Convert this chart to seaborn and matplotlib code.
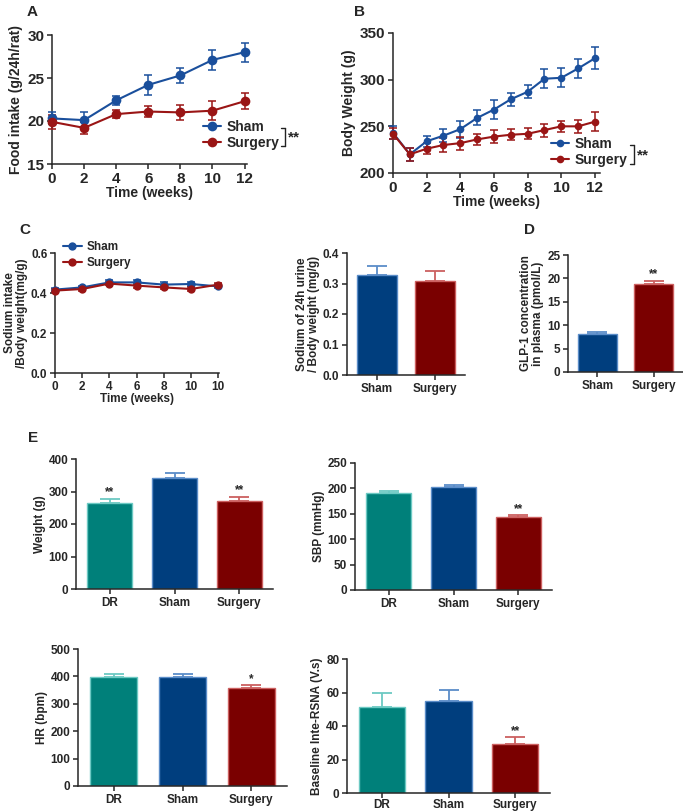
import numpy as np
import pandas as pd
import matplotlib
matplotlib.use('Agg')
import matplotlib.pyplot as plt
import seaborn as sns
from matplotlib.lines import Line2D

sns.set_style('ticks')
plt.rcParams['font.family'] = ['Liberation Sans', 'DejaVu Sans']
plt.rcParams['font.weight'] = 'bold'
plt.rcParams['axes.labelweight'] = 'bold'
plt.rcParams['axes.linewidth'] = 1.1
plt.rcParams['xtick.major.width'] = 1.1
plt.rcParams['ytick.major.width'] = 1.1
plt.rcParams['xtick.major.size'] = 3.5
plt.rcParams['ytick.major.size'] = 3.5

# A: food intake
weeks_a = [0, 2, 4, 6, 8, 10, 12]
food_sham = [20.3, 20.1, 22.4, 24.2, 25.3, 27.1, 28.0]
food_sham_err = [0.7, 0.9, 0.5, 1.2, 0.9, 1.2, 1.1]
food_surg = [19.9, 19.2, 20.8, 21.1, 21.0, 21.2, 22.3]
food_surg_err = [0.8, 0.7, 0.5, 0.6, 0.9, 1.1, 0.9]

# B: body weight
weeks_b = list(range(13))
bw_sham = [243, 220, 234, 240, 247, 259, 268, 279, 287, 301, 302, 312, 323]
bw_sham_err = [7, 7, 6, 7, 9, 8, 10, 7, 7, 10, 10, 10, 12]
bw_surg = [242, 220, 226, 230, 232, 236, 239, 241, 242, 246, 250, 250, 255]
bw_surg_err = [6, 7, 6, 7, 7, 6, 7, 6, 6, 7, 6, 7, 10]

# C: sodium intake
weeks_c = ['0', '2', '4', '6', '8', '10', '10']
na_sham = [0.417, 0.428, 0.453, 0.453, 0.442, 0.445, 0.433]
na_sham_err = [0.008, 0.008, 0.01, 0.012, 0.012, 0.012, 0.01]
na_surg = [0.412, 0.420, 0.447, 0.437, 0.428, 0.420, 0.442]
na_surg_err = [0.008, 0.008, 0.008, 0.01, 0.01, 0.01, 0.01]

# C right: urine sodium; D: GLP-1
groups2 = ['Sham', 'Surgery']
urine_na = [0.327, 0.307]
urine_na_err = [0.032, 0.035]
glp1 = [8.1, 18.7]
glp1_err = [0.4, 0.7]

# E
groups3 = ['DR', 'Sham', 'Surgery']
weight = [265, 342, 270]
weight_err = [11, 14, 14]
sbp = [190, 202, 143]
sbp_err = [5, 5, 4]
hr = [396, 398, 357]
hr_err = [11, 11, 10]
rsna = [51.6, 55.0, 29.2]
rsna_err = [8.4, 6.6, 4.0]

sham_line = '#1a4f9c'
surg_line = '#9a1515'
bar_fill = {'DR': '#00807a', 'Sham': '#003e7e', 'Surgery': '#7a0000'}
bar_edge = {'DR': '#6cc9c3', 'Sham': '#5a8cc8', 'Surgery': '#cc6060'}

W, H = 683, 811
fig = plt.figure(figsize=(W / 100, H / 100), dpi=100)


def box(l, t, r, b):
    return fig.add_axes([l / W, 1 - b / H, (r - l) / W, (b - t) / H])


def px(x, y):
    return (x / W, 1 - y / H)


def line_panel(ax, x, sham, sham_err, surg, surg_err, fs, ms=7):
    df = pd.DataFrame({'x': list(x) * 2, 'y': sham + surg,
                       'group': ['Sham'] * len(x) + ['Surgery'] * len(x)})
    for g, vals, errs, col in [('Sham', sham, sham_err, sham_line),
                                ('Surgery', surg, surg_err, surg_line)]:
        ax.errorbar(x, vals, yerr=errs, fmt='none', ecolor=col, elinewidth=1.1,
                    capsize=3, capthick=1.1, clip_on=False, zorder=3)
    sns.lineplot(data=df, x='x', y='y', hue='group', palette=[sham_line, surg_line],
                 marker='o', markersize=ms, markeredgewidth=0, linewidth=1.5,
                 ax=ax, clip_on=False, zorder=4)
    sns.despine(ax=ax)
    ax.tick_params(labelsize=fs, pad=2)
    for t in ax.get_xticklabels() + ax.get_yticklabels():
        t.set_fontweight('bold')


def bar_panel(ax, cats, vals, errs, ylim, yticks, ylabel, stars, fs=8.5, lfs=8.5):
    sns.barplot(x=cats, y=vals, hue=cats, palette=[bar_fill[c] for c in cats],
                saturation=1, legend=False, width=0.69, errorbar=None, ax=ax, zorder=2)
    for patch, c in zip(ax.patches, cats):
        patch.set_edgecolor(bar_edge[c])
        patch.set_linewidth(1.0)
    for i, c in enumerate(cats):
        ax.errorbar([i], [vals[i]], yerr=[[0], [errs[i]]], fmt='none',
                    ecolor=bar_edge[c], elinewidth=1.3, capsize=7, capthick=1.3,
                    zorder=1)
        if stars[i]:
            ax.text(i, vals[i] + errs[i] + (ylim[1] - ylim[0]) * 0.005, stars[i],
                    ha='center', va='bottom', fontsize=8.5, fontweight='bold')
    ax.set_xlim(-0.52, len(cats) - 0.48)
    ax.set_ylim(*ylim)
    ax.set_yticks(yticks)
    ax.set_ylabel(ylabel, fontsize=lfs, labelpad=2)
    ax.set_xlabel('')
    sns.despine(ax=ax)
    ax.tick_params(labelsize=fs, pad=2)
    ax.tick_params(axis='x', length=3.5)
    for t in ax.get_xticklabels() + ax.get_yticklabels():
        t.set_fontweight('bold')


def bracket(xr, yt, yb, xt, yc):
    for seg in [((xr - 4, xr), (yt, yt)), ((xr, xr), (yt, yb)), ((xr - 4, xr), (yb, yb))]:
        (x0, x1), (y0, y1) = seg
        fig.add_artist(Line2D([x0 / W, x1 / W], [1 - y0 / H, 1 - y1 / H],
                              color='#222222', lw=1.0, transform=fig.transFigure))
    fig.text(*px(xt, yc), '**', fontsize=11, fontweight='bold', va='center', ha='left')


leg_kw = dict(bbox_transform=fig.transFigure, frameon=False, handletextpad=0.4,
              borderpad=0, borderaxespad=0, loc='upper left')

# ---- A
axA = box(52, 35, 247, 164)
line_panel(axA, weeks_a, food_sham, food_sham_err, food_surg, food_surg_err, 11)
axA.set_xlim(0, 12.15)
axA.set_ylim(15, 30)
axA.set_xticks(weeks_a)
axA.set_yticks([15, 20, 25, 30])
axA.set_xlabel('Time (weeks)', fontsize=10, labelpad=0)
axA.set_ylabel('Food intake (g/24h/rat)', fontsize=10, labelpad=3)
axA.legend(bbox_to_anchor=px(203, 120), fontsize=10, handlelength=1.3,
           labelspacing=0.15, **leg_kw)
bracket(285, 128, 146, 288, 137)

# ---- B
axB = box(393, 33, 600, 173)
line_panel(axB, weeks_b, bw_sham, bw_sham_err, bw_surg, bw_surg_err, 11, ms=5.5)
axB.set_xlim(0, 12.3)
axB.set_ylim(200, 350)
axB.set_xticks([0, 2, 4, 6, 8, 10, 12])
axB.set_yticks([200, 250, 300, 350])
axB.set_xlabel('Time (weeks)', fontsize=10, labelpad=0)
axB.set_ylabel('Body Weight (g)', fontsize=10, labelpad=3)
axB.legend(bbox_to_anchor=px(551, 137), fontsize=10, handlelength=1.3,
           labelspacing=0.15, **leg_kw)
bracket(634, 145, 164, 637, 155)

# ---- C left
axC = box(55, 253, 219, 373)
pos_c = list(range(len(weeks_c)))
line_panel(axC, pos_c, na_sham, na_sham_err, na_surg, na_surg_err, 8.5, ms=6)
axC.set_xlim(0, 6.03)
axC.set_ylim(0, 0.6)
axC.set_xticks(pos_c)
axC.set_xticklabels(weeks_c)
axC.set_yticks([0.0, 0.2, 0.4, 0.6])
axC.set_yticklabels(['0.0', '0.2', '0.4', '0.6'])
for t in axC.get_xticklabels() + axC.get_yticklabels():
    t.set_fontweight('bold')
axC.set_xlabel('Time (weeks)', fontsize=8.5, labelpad=0)
axC.set_ylabel('Sodium intake\n/Body weight(mg/g)', fontsize=8.5, labelpad=2, linespacing=1.0)
axC.legend(bbox_to_anchor=px(63, 241), fontsize=8.5, handlelength=1.6,
           labelspacing=0.35, **leg_kw)

# ---- C right
axC2 = box(347, 253, 465, 375)
bar_panel(axC2, groups2, urine_na, urine_na_err, (0, 0.4), [0.0, 0.1, 0.2, 0.3, 0.4],
          'Sodium of 24h urine\n/ Body weight (mg/g)', [None, None])
axC2.set_yticklabels(['0.0', '0.1', '0.2', '0.3', '0.4'])
for t in axC2.get_yticklabels():
    t.set_fontweight('bold')
axC2.yaxis.label.set_linespacing(1.0)

# ---- D
axD = box(568, 255, 683, 372)
bar_panel(axD, groups2, glp1, glp1_err, (0, 25), [0, 5, 10, 15, 20, 25],
          'GLP-1 concentration\nin plasma (pmol/L)', [None, '**'])
axD.yaxis.label.set_linespacing(1.0)

# ---- E
axE1 = box(76, 459, 273, 589)
bar_panel(axE1, groups3, weight, weight_err, (0, 400), [0, 100, 200, 300, 400],
          'Weight (g)', ['**', None, '**'])
axE2 = box(355, 463, 552, 590)
bar_panel(axE2, groups3, sbp, sbp_err, (0, 250), [0, 50, 100, 150, 200, 250],
          'SBP (mmHg)', [None, None, '**'])
axE3 = box(78, 649, 287, 786)
bar_panel(axE3, groups3, hr, hr_err, (0, 500), [0, 100, 200, 300, 400, 500],
          'HR (bpm)', [None, None, '*'])
axE4 = box(347, 659, 550, 793)
bar_panel(axE4, groups3, rsna, rsna_err, (0, 80), [0, 20, 40, 60, 80],
          'Baseline Inte-RSNA (V.s)', [None, None, '**'])
axE4.tick_params(axis='x', pad=1)

for lab, (x, y) in {'A': (27, 12), 'B': (354, 12), 'C': (19, 230),
                    'D': (524, 230), 'E': (28, 438)}.items():
    fig.text(*px(x, y), lab, fontsize=11, fontweight='bold', va='center', ha='left')

fig.savefig('out.png', dpi=100)
